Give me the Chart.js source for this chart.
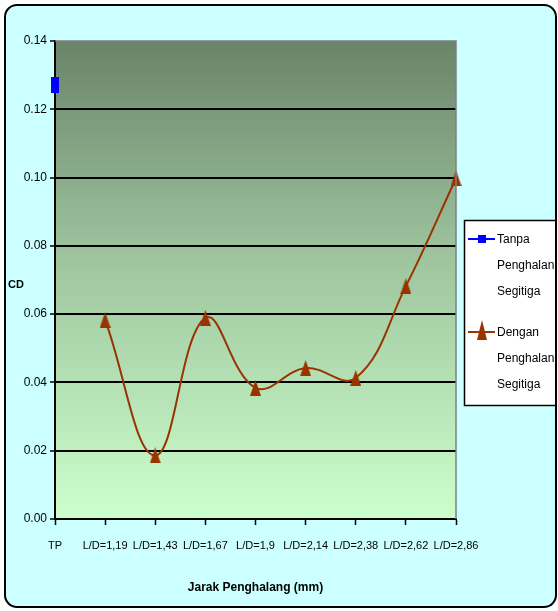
<!DOCTYPE html>
<html>
<head>
<meta charset="utf-8">
<style>
  html, body { margin: 0; padding: 0; background: #ffffff; }
  #wrap { width: 558px; height: 611px; }
</style>
<script src="https://cdn.jsdelivr.net/npm/chart.js@4/dist/chart.umd.min.js"></script>
</head>
<body>
<div id="wrap"><canvas id="cd" width="558" height="611"></canvas></div>
<script>
// Categories along the x axis (distance of the obstacle)
const categories = ['TP', 'L/D=1,19', 'L/D=1,43', 'L/D=1,67', 'L/D=1,9', 'L/D=2,14', 'L/D=2,38', 'L/D=2,62', 'L/D=2,86'];
// Drag coefficient without the triangular obstacle (only the TP position)
const tanpaValues = [0.127, null, null, null, null, null, null, null, null];
// Drag coefficient with the triangular obstacle
const denganValues = [null, 0.0583, 0.0186, 0.0589, 0.0384, 0.0442, 0.0413, 0.0682, 0.0998];
// Value axis ticks
const yTicks = [0.00, 0.02, 0.04, 0.06, 0.08, 0.10, 0.12, 0.14];
// Series names, split over lines as shown in the legend
const seriesNames = [['Tanpa', 'Penghalang', 'Segitiga'], ['Dengan', 'Penghalang', 'Segitiga']];

const BLUE = '#0000ff';
const BROWN = '#993300';
const FONT = "'Liberation Sans', Arial, sans-serif";

// Marker images: a tall blue block and a tall brown triangle
function blockMarker() {
  const c = document.createElement('canvas');
  c.width = 8; c.height = 16;
  const g = c.getContext('2d');
  g.fillStyle = BLUE;
  g.fillRect(0, 0, 8, 16);
  return c;
}
function triangleMarker(w, h) {
  const c = document.createElement('canvas');
  c.width = w; c.height = h;
  const g = c.getContext('2d');
  g.fillStyle = BROWN;
  g.beginPath();
  g.moveTo(w / 2, 0);
  g.lineTo(w, h);
  g.lineTo(0, h);
  g.closePath();
  g.fill();
  return c;
}

// Frame, background and plot-area gradient
const backdrop = {
  id: 'backdrop',
  beforeDraw(chart) {
    const { ctx, chartArea: a } = chart;
    ctx.save();
    ctx.fillStyle = '#ffffff';
    ctx.fillRect(0, 0, chart.width, chart.height);
    ctx.beginPath();
    ctx.roundRect(5, 5, 551, 602, 12);
    ctx.fillStyle = '#ccffff';
    ctx.fill();
    const grad = ctx.createLinearGradient(0, a.top, 0, a.bottom);
    grad.addColorStop(0, '#6a846a');
    grad.addColorStop(0.45, '#9ec49e');
    grad.addColorStop(1, '#ccffcc');
    ctx.fillStyle = grad;
    ctx.fillRect(a.left, a.top, a.right - a.left, a.bottom - a.top);
    ctx.restore();
  },
  afterDraw(chart) {
    const { ctx, chartArea: a } = chart;
    ctx.save();
    // grey plot border on top and right
    ctx.strokeStyle = '#808080';
    ctx.lineWidth = 1.5;
    ctx.beginPath();
    ctx.moveTo(a.left, a.top);
    ctx.lineTo(a.right, a.top);
    ctx.lineTo(a.right, a.bottom);
    ctx.stroke();

    // axis titles
    ctx.fillStyle = '#000';
    ctx.textBaseline = 'middle';
    ctx.font = 'bold 11px ' + FONT;
    ctx.textAlign = 'left';
    ctx.fillText('CD', 8, 285);
    ctx.font = 'bold 12px ' + FONT;
    ctx.textAlign = 'center';
    ctx.fillText('Jarak Penghalang (mm)', (a.left + a.right) / 2, 588);

    // legend
    ctx.save();
    ctx.beginPath();
    ctx.rect(0, 0, 556, chart.height);
    ctx.clip();
    ctx.fillStyle = '#ffffff';
    ctx.fillRect(464, 220, 100, 186);
    ctx.strokeStyle = '#000';
    ctx.lineWidth = 1.5;
    ctx.strokeRect(464.5, 220.5, 100, 185);
    const rows = [[240, 266, 292], [333, 359, 385]];
    const colors = [BLUE, BROWN];
    ctx.font = '12px ' + FONT;
    ctx.textAlign = 'left';
    ctx.textBaseline = 'middle';
    for (let i = 0; i < 2; i++) {
      const ly = rows[i][0] - 1;
      ctx.strokeStyle = colors[i];
      ctx.lineWidth = 2;
      ctx.beginPath();
      ctx.moveTo(468, ly);
      ctx.lineTo(495, ly);
      ctx.stroke();
      ctx.fillStyle = colors[i];
      if (i === 0) {
        ctx.fillRect(478, ly - 4, 8, 8);
      } else {
        ctx.beginPath();
        ctx.moveTo(482, ly - 12);
        ctx.lineTo(487, ly + 8);
        ctx.lineTo(477, ly + 8);
        ctx.closePath();
        ctx.fill();
      }
      ctx.fillStyle = '#000';
      seriesNames[i].forEach((t, k) => ctx.fillText(t, 497, rows[i][k]));
    }
    ctx.restore();

    // outer frame
    ctx.beginPath();
    ctx.roundRect(5, 5, 551, 602, 12);
    ctx.strokeStyle = '#000';
    ctx.lineWidth = 2;
    ctx.stroke();
    ctx.restore();
  }
};

new Chart(document.getElementById('cd'), {
  type: 'line',
  data: {
    labels: categories,
    datasets: [
      {
        label: seriesNames[0].join(' '),
        data: tanpaValues,
        borderColor: BLUE,
        backgroundColor: BLUE,
        borderWidth: 2,
        pointStyle: blockMarker(),
        pointRadius: 5,
        clip: false
      },
      {
        label: seriesNames[1].join(' '),
        data: denganValues,
        borderColor: BROWN,
        backgroundColor: BROWN,
        borderWidth: 2,
        tension: 0.4,
        pointStyle: triangleMarker(11, 16),
        pointRadius: 6,
        clip: false
      }
    ]
  },
  options: {
    responsive: false,
    animation: false,
    devicePixelRatio: 1,
    layout: { padding: { left: 0, top: 41, right: 102, bottom: 0 } },
    plugins: {
      legend: { display: false },
      tooltip: { enabled: false }
    },
    scales: {
      x: {
        type: 'category',
        offset: false,
        afterFit(scale) { scale.height = 92; },
        grid: {
          drawOnChartArea: false,
          drawTicks: true,
          tickLength: 6,
          tickColor: '#000',
          tickWidth: 1.5
        },
        border: { display: true, color: '#000', width: 2 },
        ticks: {
          autoSkip: false,
          maxRotation: 0,
          minRotation: 0,
          padding: 14,
          color: '#000',
          font: { family: FONT, size: 11 }
        }
      },
      y: {
        min: 0,
        max: 0.14,
        afterFit(scale) { scale.width = 55; },
        afterBuildTicks(scale) { scale.ticks = yTicks.map(v => ({ value: v })); },
        grid: {
          color: ctx => (ctx.tick && ctx.tick.value >= 0.14 ? 'rgba(0,0,0,0)' : '#000'),
          lineWidth: 2,
          drawTicks: true,
          tickLength: 5,
          tickColor: '#000',
          tickWidth: 1.5
        },
        border: { display: true, color: '#000', width: 2 },
        ticks: {
          padding: 3,
          color: '#000',
          font: { family: FONT, size: 12 },
          callback: v => Number(v).toFixed(2)
        }
      }
    }
  },
  plugins: [backdrop]
});
</script>
</body>
</html>
